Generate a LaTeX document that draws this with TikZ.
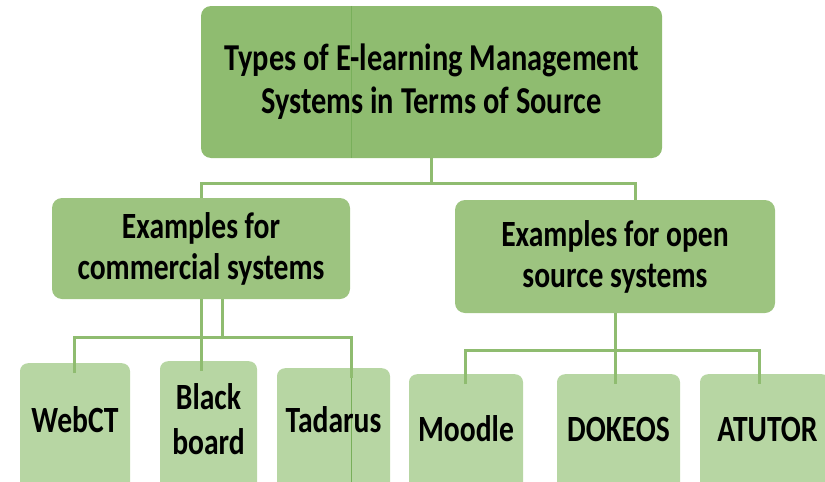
\documentclass[tikz,border=0pt]{standalone}
\usepackage{fontspec}
\setmainfont{Carlito}[FakeStretch=0.8]
\usetikzlibrary{calc}
\definecolor{topc}{RGB}{143,188,112}
\definecolor{midc}{RGB}{157,196,128}
\definecolor{botc}{RGB}{183,214,163}
\definecolor{linec}{RGB}{143,188,112}
\definecolor{thinc}{RGB}{120,175,90}
\begin{document}
\begin{tikzpicture}[x=1pt,y=-1pt,
  box/.style={rounded corners=10pt, inner sep=0pt, align=center},
  lvlzero/.style={box, fill=topc, font=\bfseries\fontsize{38}{43}\selectfont},
  lvlone/.style={box, fill=midc, font=\bfseries\fontsize{37}{41}\selectfont},
  lvltwo/.style={box, fill=botc, rounded corners=8pt, anchor=north, minimum height=140pt},
  lbl/.style={inner sep=0pt, align=center, font=\bfseries\fontsize{37}{45}\selectfont},
  conn/.style={draw=linec, line width=3pt},
  thin line/.style={draw=thinc, line width=0.8pt}]
\path[use as bounding box] (0,0) rectangle (825,482);
\clip (0,0) rectangle (825,482);
% boxes
\node[lvlzero, minimum width=461pt, minimum height=152pt] (root) at (431.5,82) {};
\node[lvlone, minimum width=298pt, minimum height=101pt] (com) at (201,248.5) {Examples for\\commercial systems};
\node[lvlone, minimum width=320pt, minimum height=113pt] (open) at (615,256.5) {Examples for open\\source systems};
\node[lvltwo, minimum width=110pt] (webct) at (75,363) {};
\node[lvltwo, minimum width=97pt] (bb) at (208.5,361) {};
\node[lvltwo, minimum width=113pt] (tad) at (333.5,368) {};
\node[lvltwo, minimum width=114pt] (moodle) at (466,374) {};
\node[lvltwo, minimum width=123pt] (dokeos) at (618.5,374) {};
\node[lvltwo, minimum width=130pt] (atutor) at (765,374) {};
% helper coordinates
\coordinate (b0) at (0,183);
\coordinate (b1) at (0,337);
\coordinate (b2) at (0,350);
\coordinate (xr) at (635,0);
\coordinate (xa) at (222,0);
\coordinate (xw) at (74,0);
\coordinate (xt) at (351,0);
\coordinate (xm) at (465,0);
\coordinate (xat) at (759,0);
% thin lines crossing boxes
\draw[thin line] (root.north -| xt) -- (root.south -| xt);
\draw[thin line] (tad.north -| xt) -- (tad.south -| xt);
% labels
\node[lvlzero, fill=none] (troot) at (root.center) {Types of E-learning Management\\Systems in Terms of Source};
\node[lbl] (twebct) at (75,420) {WebCT};
\node[lbl] (tbb) at (208.5,419) {Black\\board};
\node[lbl] (ttad) at (333.5,420) {Tadarus};
\node[lbl] (tmoodle) at (466,429) {Moodle};
\node[lbl] (tdokeos) at (618.5,429) {DOKEOS};
\node[lbl] (tatutor) at (767.5,429) {ATUTOR};
% connectors level 0
\draw[conn] (root.south) -- (b0 -| root.south);
\draw[conn] (com.north) |- (b0 -| xr) -- (open.north -| xr);
% connectors commercial
\draw[conn] (com.south) -- ($(com.south |- bb.north)+(0,10)$);
\draw[conn] (com.south -| xa) -- (b1 -| xa);
\draw[conn] ($(xw |- webct.north)+(0,10)$) |- (b1 -| xt) -- ($(xt |- tad.north)+(0,10)$);
% connectors open source
\draw[conn] (open.south) -- (b2 -| open.south) -- ($(open.south |- dokeos.north)+(0,10)$);
\draw[conn] ($(xm |- moodle.north)+(0,10)$) |- (b2 -| xat) -- ($(xat |- atutor.north)+(0,10)$);
\end{tikzpicture}
\end{document}
